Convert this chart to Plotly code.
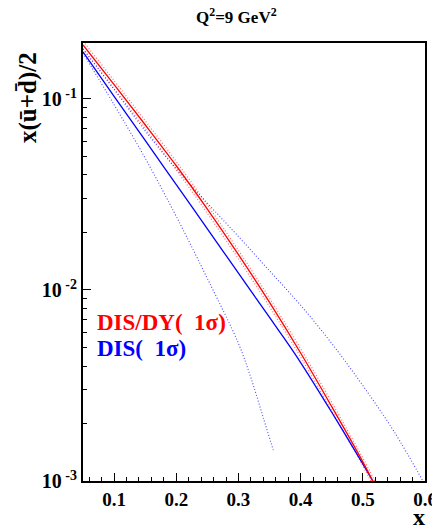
import plotly.graph_objects as go

# ---- data ----
x_red = [0.05, 0.10, 0.15, 0.20, 0.25, 0.30, 0.35, 0.40, 0.45, 0.50, 0.516, 0.53]
red_central = [0.1919, 0.1189, 0.0733, 0.0447, 0.0265, 0.01531, 0.00861, 0.00468, 0.00245, 0.00126, 0.00100, 0.00081]
red_upper = [0.2010, 0.1248, 0.0770, 0.0470, 0.0279, 0.01612, 0.00906, 0.00493, 0.00258, 0.00132, 0.00105, 0.00085]
red_lower = [0.1830, 0.1132, 0.0698, 0.0425, 0.0252, 0.01455, 0.00818, 0.00445, 0.00233, 0.00120, 0.00095, 0.00077]

x_blue = [0.05, 0.10, 0.15, 0.20, 0.25, 0.30, 0.35, 0.372, 0.40, 0.45, 0.50, 0.516, 0.53]
blue_central = [0.1762, 0.1033, 0.0607, 0.0356, 0.0209, 0.01225, 0.00718, 0.00568, 0.00417, 0.00229, 0.00123, 0.00100, 0.00083]

x_blue_lo = [0.05, 0.10, 0.15, 0.20, 0.25, 0.30, 0.32, 0.34, 0.356]
blue_lower = [0.1738, 0.0933, 0.0490, 0.02427, 0.01148, 0.00525, 0.00347, 0.00214, 0.00145]

x_blue_hi = [0.05, 0.10, 0.15, 0.20, 0.25, 0.30, 0.35, 0.40, 0.45, 0.50, 0.55, 0.60]
blue_upper = [0.1828, 0.1122, 0.0681, 0.0430, 0.0285, 0.01905, 0.01259, 0.00832, 0.00525, 0.00316, 0.00182, 0.000955]

x_ticks = [0.1, 0.2, 0.3, 0.4, 0.5, 0.6]
x_tick_labels = ["<b>0.1</b>", "<b>0.2</b>", "<b>0.3</b>", "<b>0.4</b>", "<b>0.5</b>", "<b>0.6</b>"]
y_ticks = [0.001, 0.01, 0.1]
y_tick_labels = ["<b>10</b><sup><b>\u00a0-3</b></sup>", "<b>10</b><sup><b>\u00a0-2</b></sup>", "<b>10</b><sup><b>\u00a0-1</b></sup>"]
y_minor = [m * 10 ** e for e in (-3, -2, -1) for m in range(2, 10)]

RED = "#ff0000"
BLUE = "#0000ff"
FONT = "Liberation Serif"

fig = go.Figure()
fig.add_trace(go.Scatter(x=x_red, y=red_upper, mode="lines", line=dict(color="rgba(255,70,70,0.8)", width=1.2, dash="1px,2px", shape="spline")))
fig.add_trace(go.Scatter(x=x_red, y=red_lower, mode="lines", line=dict(color="rgba(255,70,70,0.8)", width=1.2, dash="1px,2px", shape="spline")))
fig.add_trace(go.Scatter(x=x_blue_hi, y=blue_upper, mode="lines", line=dict(color="rgba(40,40,255,0.85)", width=1.1, dash="1px,2px", shape="spline")))
fig.add_trace(go.Scatter(x=x_blue_lo, y=blue_lower, mode="lines", line=dict(color="rgba(40,40,255,0.85)", width=1.1, dash="1px,2px", shape="spline")))
fig.add_trace(go.Scatter(x=x_blue, y=blue_central, mode="lines", line=dict(color=BLUE, width=1.3, shape="spline")))
fig.add_trace(go.Scatter(x=x_red, y=red_central, mode="lines", line=dict(color=RED, width=1.3, shape="spline")))

fig.update_layout(
    width=432, height=525,
    margin=dict(l=83, r=7, t=43, b=44),
    paper_bgcolor="white", plot_bgcolor="white",
    showlegend=False,
    font=dict(family=FONT, color="black"),
)
fig.update_xaxes(
    range=[0.05, 0.6], tickvals=x_ticks, ticktext=x_tick_labels,
    ticks="inside", ticklen=8, tickwidth=1, tickcolor="black",
    showline=True, linecolor="black", linewidth=2, mirror=True,
    showgrid=False, zeroline=False,
    tickfont=dict(family=FONT, size=19, color="black"),
    ticklabeloverflow="allow",
    minor=dict(dtick=0.02, tick0=0.0, ticks="inside", ticklen=4, tickcolor="black", showgrid=False),
    automargin=False,
)
fig.update_yaxes(
    type="log", range=[-3, -0.707], tickvals=y_ticks, ticktext=y_tick_labels,
    ticks="inside", ticklen=8, tickwidth=1, tickcolor="black",
    showline=True, linecolor="black", linewidth=2, mirror=True,
    showgrid=False, zeroline=False,
    tickfont=dict(family=FONT, size=20, color="black"),
    ticklabelstandoff=0,
    minor=dict(tickvals=y_minor, ticks="inside", ticklen=4, tickcolor="black", showgrid=False),
    automargin=False,
)

def px(xp):
    return (xp - 83) / 342

def py(yp):
    return (481 - yp) / 438

fig.add_annotation(text="Q<sup>2</sup>=9 GeV<sup>2</sup>", xref="paper", yref="paper",
                   x=px(236), y=py(16), xanchor="center", yanchor="middle", showarrow=False,
                   font=dict(family=FONT, size=17, weight="bold", color="black"))
fig.add_annotation(text="<b>x(ū+d\u0304)/2</b>", xref="paper", yref="paper",
                   x=px(28), y=py(98), xanchor="center", yanchor="middle", textangle=-90, showarrow=False,
                   font=dict(family=FONT, size=25, color="black"))
fig.add_annotation(text="<b>x</b>", xref="paper", yref="paper",
                   x=px(419), y=py(517), xanchor="center", yanchor="middle", showarrow=False,
                   font=dict(family=FONT, size=24, color="black"))
fig.add_annotation(text="<b>DIS/DY(\u00a0\u00a01σ)</b>", xref="paper", yref="paper",
                   x=px(95), y=py(322), xanchor="left", yanchor="middle", showarrow=False,
                   font=dict(family=FONT, size=23, color=RED))
fig.add_annotation(text="<b>DIS(\u00a0\u00a01σ)</b>", xref="paper", yref="paper",
                   x=px(95), y=py(348), xanchor="left", yanchor="middle", showarrow=False,
                   font=dict(family=FONT, size=23, color=BLUE))

fig.write_html("out.html")
